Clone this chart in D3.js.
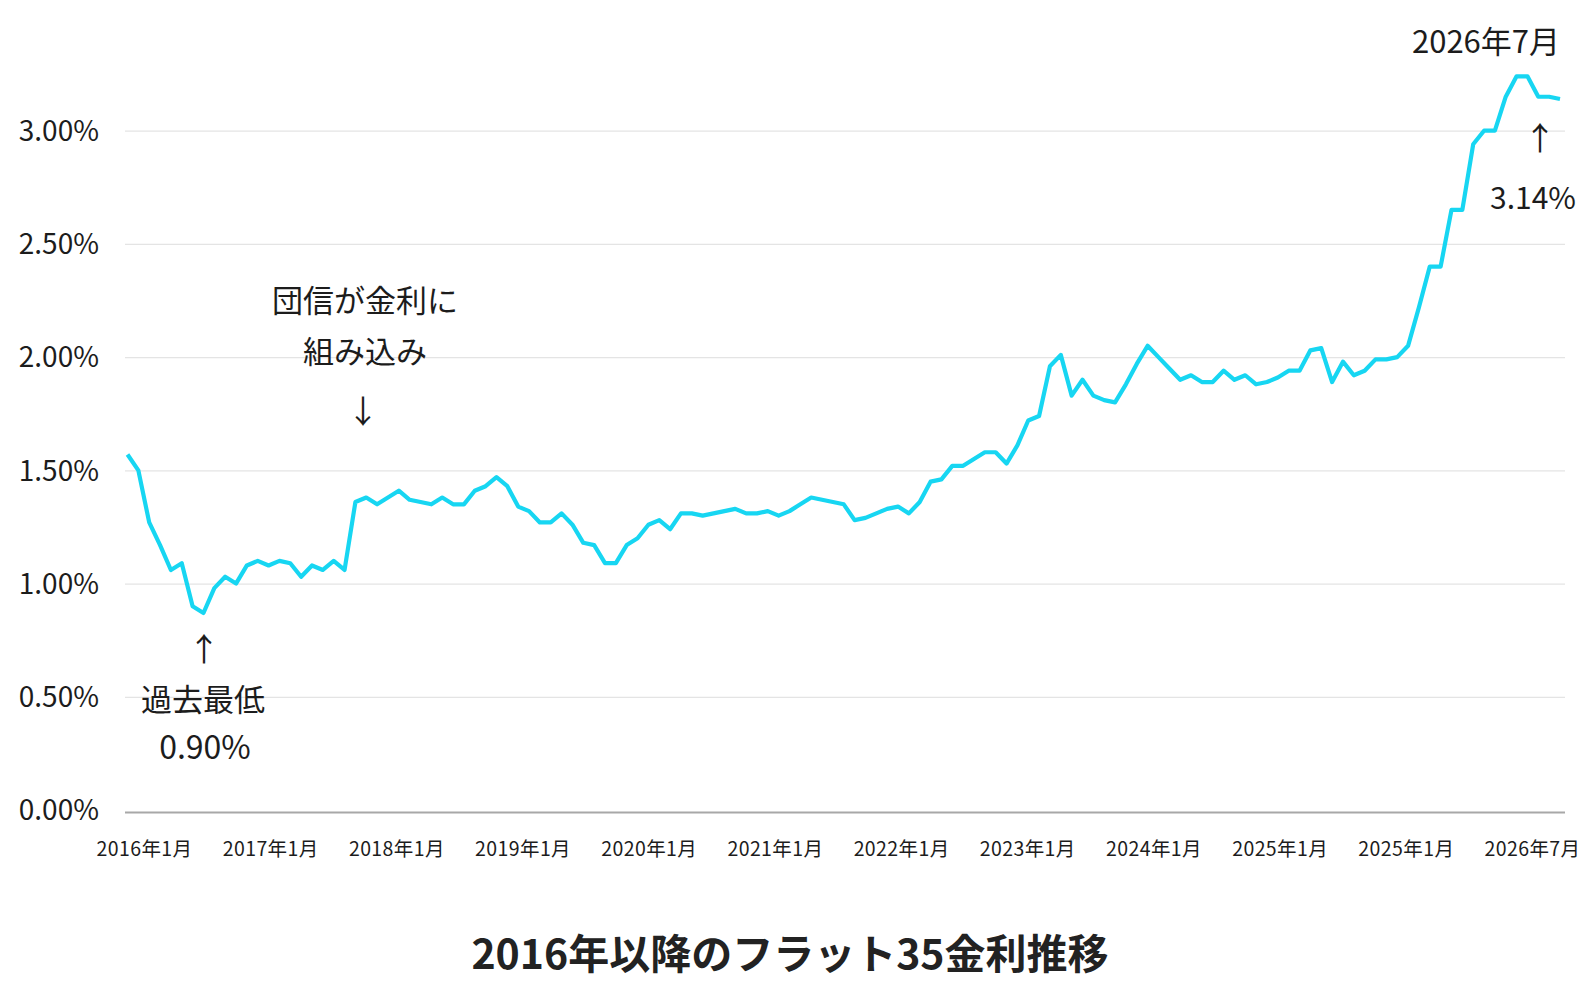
<!DOCTYPE html>
<html lang="ja">
<head>
<meta charset="utf-8">
<script src="https://cdn.jsdelivr.net/npm/d3@7"></script>
<style>
  html, body { margin: 0; padding: 0; background: #fff; }
  svg { display: block; font-family: "Noto Sans CJK JP", "Noto Sans", sans-serif; }
</style>
</head>
<body>
<div id="chart"></div>
<script>
// フラット35 金利 (%), left to right
const rates = [
  1.57, 1.50, 1.27, 1.17, 1.06, 1.09, 0.90, 0.87, 0.98, 1.03,
  1.00, 1.08, 1.10, 1.08, 1.10, 1.09, 1.03, 1.08, 1.06, 1.10,
  1.06, 1.36, 1.38, 1.35, 1.38, 1.41, 1.37, 1.36, 1.35, 1.38,
  1.35, 1.35, 1.41, 1.43, 1.47, 1.43, 1.34, 1.32, 1.27, 1.27,
  1.31, 1.26, 1.18, 1.17, 1.09, 1.09, 1.17, 1.20, 1.26, 1.28,
  1.24, 1.31, 1.31, 1.30, 1.31, 1.32, 1.33, 1.31, 1.31, 1.32,
  1.30, 1.32, 1.35, 1.38, 1.37, 1.36, 1.35, 1.28, 1.29, 1.31,
  1.33, 1.34, 1.31, 1.36, 1.45, 1.46, 1.52, 1.52, 1.55, 1.58,
  1.58, 1.53, 1.61, 1.72, 1.74, 1.96, 2.01, 1.83, 1.90, 1.83,
  1.81, 1.80, 1.88, 1.97, 2.05, 2.00, 1.95, 1.90, 1.92, 1.89,
  1.89, 1.94, 1.90, 1.92, 1.88, 1.89, 1.91, 1.94, 1.94,
  2.03, 2.04, 1.89, 1.98, 1.92, 1.94, 1.99, 1.99, 2.00, 2.05,
  2.22, 2.40, 2.40, 2.65, 2.65, 2.94, 3.00, 3.00, 3.15, 3.24,
  3.24, 3.15, 3.15, 3.14
];

const tickLabels = [
  "2016年1月", "2017年1月", "2018年1月", "2019年1月", "2020年1月", "2021年1月",
  "2022年1月", "2023年1月", "2024年1月", "2025年1月", "2025年1月", "2026年7月"
];

const yTicks = [0, 0.5, 1, 1.5, 2, 2.5, 3];

const title = "2016年以降のフラット35金利推移";

const W = 1586, H = 992;
const FONT = '"Noto Sans CJK JP", "Noto Sans", sans-serif';
const margin = { top: 20, right: 21, bottom: 180, left: 125 };
const plotLeft = margin.left, plotRight = W - margin.right;

const svg = d3.select("#chart").append("svg")
  .attr("width", W)
  .attr("height", H);

// scales
const x = d3.scaleLinear()
  .domain([0, rates.length - 1])
  .range([127.5, 1560]);

const y = d3.scaleLinear()
  .domain([0, 3])
  .range([810, 130.7]);

const xLab = d3.scalePoint()
  .domain(d3.range(tickLabels.length))
  .range([144, 1532]);

// gridlines + y labels
const yAxis = svg.append("g")
  .attr("transform", `translate(${plotLeft},0)`)
  .call(d3.axisLeft(y)
    .tickValues(yTicks)
    .tickSize(-(plotRight - plotLeft))
    .tickPadding(26)
    .tickFormat(d => d3.format(".2f")(d) + "%"))
  .attr("font-family", FONT)
  .attr("font-size", 28);

yAxis.select(".domain").remove();
yAxis.selectAll(".tick line")
  .attr("stroke", d => d === 0 ? "#a8a8a8" : "#e4e4e4")
  .attr("stroke-width", d => d === 0 ? 2 : 1.2)
  .attr("transform", d => d === 0 ? "translate(0,2)" : null);
yAxis.selectAll(".tick text")
  .attr("fill", "#1c1c1c")
  .attr("dy", "0.35em");

// x labels
const xAxis = svg.append("g")
  .attr("transform", "translate(0,842)")
  .call(d3.axisBottom(xLab)
    .tickSize(0)
    .tickPadding(0)
    .tickFormat(i => tickLabels[i]))
  .attr("font-family", FONT)
  .attr("font-size", 19.5);

xAxis.select(".domain").remove();
xAxis.selectAll(".tick text")
  .attr("fill", "#1c1c1c")
  .attr("dy", "0.71em")
  .style("letter-spacing", "0.4px");

// rate line
const line = d3.line()
  .x((d, i) => x(i))
  .y(d => y(d));

svg.append("path")
  .datum(rates)
  .attr("fill", "none")
  .attr("stroke", "#17d6f2")
  .attr("stroke-width", 4.2)
  .attr("stroke-linejoin", "round")
  .attr("d", line);

// annotations
const note = (txt, cx, cy, size) => svg.append("text")
  .attr("x", cx)
  .attr("y", cy)
  .attr("text-anchor", "middle")
  .attr("dominant-baseline", "central")
  .attr("fill", "#1c1c1c")
  .style("font-size", size + "px")
  .text(txt);

note("↑", 204, 647, 32);
note("過去最低", 203, 697, 31);
note("0.90%", 205, 745, 32);

note("団信が金利に", 365, 298, 31);
note("組み込み", 365, 349, 31);
note("↓", 363, 409, 32);

note("2026年7月", 1486, 39, 31);
note("↑", 1540, 136, 32);
note("3.14%", 1533, 196, 30);

// title
svg.append("text")
  .attr("x", 790)
  .attr("y", 951)
  .attr("text-anchor", "middle")
  .attr("dominant-baseline", "central")
  .attr("fill", "#222")
  .style("font-size", "41px")
  .style("font-weight", "bold")
  .text(title);
</script>
</body>
</html>
